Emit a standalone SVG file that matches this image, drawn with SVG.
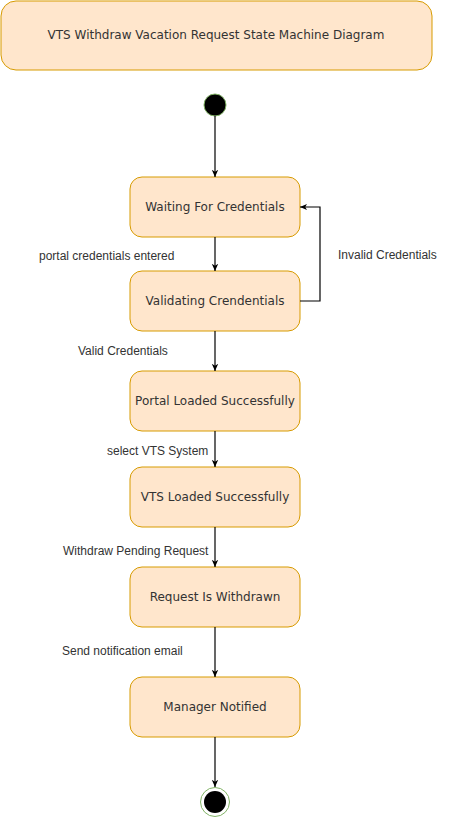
<svg xmlns="http://www.w3.org/2000/svg" width="457" height="818" viewBox="0 0 457 818">
<style>
.node rect{fill:#ffe6cc;stroke:#d79b00;stroke-width:1}
.node text{font-family:"DejaVu Sans",sans-serif;font-size:12px;fill:#333;text-anchor:middle;dominant-baseline:central}
.edge{fill:none;stroke:#000;stroke-width:1.2;marker-end:url(#arr)}
.lbl{font-family:"Liberation Sans",Arial,sans-serif;font-size:12px;fill:#333}
</style>
<defs>
<marker id="arr" viewBox="0 0 10 10" refX="9" refY="5" markerWidth="8" markerHeight="8" markerUnits="userSpaceOnUse" orient="auto">
<path d="M0,1 L9,5 L0,9 L2.5,5 Z" fill="#000"/>
</marker>
</defs>
<rect width="457" height="818" fill="#fff"/>
<g id="title" class="node"><rect x="1" y="1" width="431" height="69" rx="15"/><text x="216" y="35">VTS Withdraw Vacation Request State Machine Diagram</text></g>
<g id="start"><circle cx="215" cy="105" r="11" fill="#000" stroke="#82b366" stroke-width="1"/></g>
<g id="waiting" class="node"><rect x="130" y="177" width="170" height="60" rx="12"/><text x="215" y="207">Waiting For Credentials</text></g>
<g id="validating" class="node"><rect x="130" y="271" width="170" height="60" rx="12"/><text x="215" y="301">Validating Crendentials</text></g>
<g id="portal" class="node"><rect x="130" y="371" width="170" height="60" rx="12"/><text x="215" y="401">Portal Loaded Successfully</text></g>
<g id="vts" class="node"><rect x="130" y="467" width="170" height="60" rx="12"/><text x="215" y="497">VTS Loaded Successfully</text></g>
<g id="withdrawn" class="node"><rect x="130" y="567" width="170" height="60" rx="12"/><text x="215" y="597">Request Is Withdrawn</text></g>
<g id="manager" class="node"><rect x="130" y="677" width="170" height="60" rx="12"/><text x="215" y="707">Manager Notified</text></g>
<g id="end"><circle cx="215" cy="802" r="14.5" fill="#fff" stroke="#82b366" stroke-width="1"/><circle cx="215" cy="802" r="11" fill="#000"/></g>
<g id="connectors">
<path class="edge" d="M215,116 V177"/>
<path class="edge" d="M215,237 V271"/>
<path class="edge" d="M300,301 H320 V207 H300"/>
<path class="edge" d="M215,331 V371"/>
<path class="edge" d="M215,431 V467"/>
<path class="edge" d="M215,527 V567"/>
<path class="edge" d="M215,627 V677"/>
<path class="edge" d="M215,737 V787"/>
</g>
<g id="labels">
<text class="lbl" x="39" y="260">portal credentials entered</text>
<text class="lbl" x="338" y="259">Invalid Credentials</text>
<text class="lbl" x="78" y="355">Valid Credentials</text>
<text class="lbl" x="107" y="455">select VTS System</text>
<text class="lbl" x="63" y="555">Withdraw Pending Request</text>
<text class="lbl" x="62" y="655">Send notification email</text>
</g>
</svg>
